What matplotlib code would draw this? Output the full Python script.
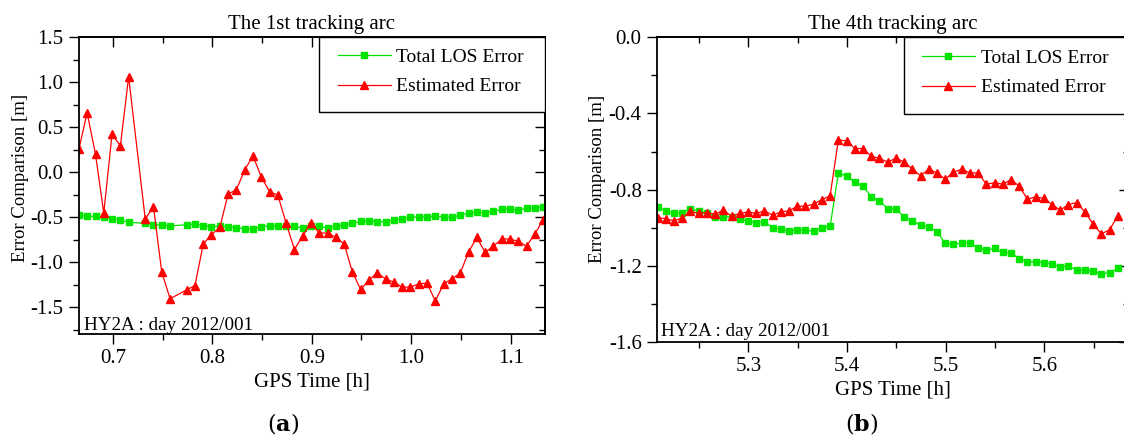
import matplotlib
matplotlib.use("Agg")
import matplotlib.pyplot as plt
from matplotlib.ticker import MultipleLocator, FormatStrFormatter, NullFormatter
from matplotlib.patches import Rectangle

plt.rcParams['font.family'] = ['Liberation Serif', 'DejaVu Serif']
plt.rcParams['axes.unicode_minus'] = False

# ---- data: (a) 1st tracking arc ----
t1 = [0.6659, 0.6742, 0.6826, 0.6909, 0.6992, 0.7076, 0.7159,
      0.7326, 0.7409, 0.7492, 0.7576,
      0.7742, 0.7826, 0.7909, 0.7992, 0.8076, 0.8159, 0.8242, 0.8326, 0.8409, 0.8492,
      0.8576, 0.8659, 0.8742, 0.8826, 0.8909, 0.8992, 0.9076, 0.9159, 0.9242, 0.9326,
      0.9409, 0.9492, 0.9576, 0.9659, 0.9742, 0.9826, 0.9909, 0.9992, 1.0076, 1.0159,
      1.0242, 1.0326, 1.0409, 1.0492, 1.0576, 1.0659, 1.0742, 1.0826, 1.0909, 1.0992,
      1.1076, 1.1159, 1.1242, 1.1326]
los1 = [-0.477, -0.492, -0.492, -0.496, -0.518, -0.533, -0.558,
        -0.569, -0.584, -0.588, -0.599,
        -0.584, -0.577, -0.595, -0.606, -0.603, -0.610, -0.618, -0.629, -0.629, -0.606,
        -0.595, -0.603, -0.603, -0.603, -0.621, -0.603, -0.603, -0.621, -0.603, -0.588,
        -0.569, -0.547, -0.540, -0.551, -0.551, -0.533, -0.518, -0.503, -0.496, -0.496,
        -0.492, -0.496, -0.503, -0.477, -0.459, -0.448, -0.451, -0.437, -0.414, -0.411,
        -0.422, -0.403, -0.396, -0.385]
est1 = [0.255, 0.661, 0.199, -0.455, 0.421, 0.292, 1.06,
        -0.521, -0.385, -1.113, -1.408,
        -1.309, -1.261, -0.799, -0.695, -0.614, -0.244, -0.196, 0.025, 0.181, -0.052,
        -0.218, -0.255, -0.566, -0.861, -0.706, -0.569, -0.677, -0.677, -0.725, -0.799,
        -1.113, -1.305, -1.198, -1.120, -1.187, -1.224, -1.279, -1.279, -1.242, -1.235,
        -1.434, -1.242, -1.187, -1.124, -0.891, -0.725, -0.891, -0.824, -0.743, -0.743,
        -0.769, -0.824, -0.688, -0.533]

# ---- data: (b) 4th tracking arc ----
t2 = [5.2078, 5.2161, 5.2245, 5.2328, 5.2411, 5.2495, 5.2578, 5.2661, 5.2745, 5.2828,
      5.2911, 5.2995, 5.3078, 5.3161, 5.3245, 5.3328, 5.3411, 5.3495, 5.3578, 5.3661,
      5.3745, 5.3828, 5.3911, 5.3995, 5.4078, 5.4161, 5.4245, 5.4328, 5.4411, 5.4495,
      5.4578, 5.4661, 5.4745, 5.4828, 5.4911, 5.4995, 5.5078, 5.5161, 5.5245, 5.5328,
      5.5411, 5.5495, 5.5578, 5.5661, 5.5745, 5.5828, 5.5911, 5.5995, 5.6078, 5.6161,
      5.6245, 5.6328, 5.6411, 5.6495, 5.6578, 5.6661, 5.6745]
los2 = [-0.890, -0.911, -0.925, -0.920, -0.899, -0.913, -0.922, -0.943, -0.943, -0.943,
        -0.952, -0.966, -0.973, -0.969, -0.999, -1.008, -1.017, -1.010, -1.013, -1.018,
        -0.999, -0.992, -0.715, -0.727, -0.762, -0.780, -0.838, -0.859, -0.899, -0.902,
        -0.943, -0.964, -0.987, -0.995, -1.022, -1.080, -1.088, -1.078, -1.078, -1.106,
        -1.118, -1.109, -1.130, -1.132, -1.162, -1.179, -1.179, -1.183, -1.192, -1.206,
        -1.200, -1.223, -1.223, -1.228, -1.241, -1.237, -1.214]
est2 = [-0.948, -0.952, -0.964, -0.948, -0.913, -0.925, -0.920, -0.929, -0.908, -0.939,
        -0.925, -0.917, -0.925, -0.911, -0.934, -0.917, -0.911, -0.887, -0.887, -0.876,
        -0.852, -0.832, -0.540, -0.543, -0.584, -0.584, -0.624, -0.636, -0.654, -0.636,
        -0.654, -0.692, -0.727, -0.692, -0.712, -0.745, -0.708, -0.693, -0.712, -0.712,
        -0.771, -0.764, -0.771, -0.748, -0.781, -0.850, -0.838, -0.846, -0.878, -0.908,
        -0.878, -0.868, -0.917, -0.981, -1.032, -1.011, -0.938]

titles = ["The 1st tracking arc", "The 4th tracking arc"]
tag = "HY2A : day 2012/001"
green = '#00e400'
red = '#ff0000'

fig = plt.figure(figsize=(11.24, 4.37), dpi=100)
ax1 = fig.add_axes([0.0701, 0.2357, 0.4148, 0.6790])
ax2 = fig.add_axes([0.5845, 0.2174, 0.4199, 0.6972])


def style(ax, xlim, ylim, xmaj, ymaj):
    ax.set_xlim(*xlim)
    ax.set_ylim(*ylim)
    ax.xaxis.set_major_locator(MultipleLocator(xmaj))
    ax.xaxis.set_minor_locator(MultipleLocator(xmaj / 2))
    ax.yaxis.set_major_locator(MultipleLocator(ymaj))
    ax.yaxis.set_minor_locator(MultipleLocator(ymaj / 2))
    ax.xaxis.set_major_formatter(FormatStrFormatter('%.1f'))
    ax.yaxis.set_major_formatter(FormatStrFormatter('%.1f'))
    for s in ax.spines.values():
        s.set_linewidth(1.3)
    ax.tick_params(which='both', direction='out', top=False, right=False,
                   width=1.0, labelsize=15, pad=4)
    ax.tick_params(which='major', length=7)
    ax.tick_params(which='minor', length=4)
    # inward ticks on top / right
    top = ax.secondary_xaxis('top')
    top.xaxis.set_major_locator(MultipleLocator(xmaj))
    top.xaxis.set_minor_locator(MultipleLocator(xmaj / 2))
    top.xaxis.set_major_formatter(NullFormatter())
    top.tick_params(which='both', direction='in', width=1.0)
    top.tick_params(which='major', length=7)
    top.tick_params(which='minor', length=4)
    top.spines['top'].set_linewidth(1.3)
    rgt = ax.secondary_yaxis('right')
    rgt.yaxis.set_major_locator(MultipleLocator(ymaj))
    rgt.yaxis.set_minor_locator(MultipleLocator(ymaj / 2))
    rgt.yaxis.set_major_formatter(NullFormatter())
    rgt.tick_params(which='both', direction='in', width=1.0)
    rgt.tick_params(which='major', length=7)
    rgt.tick_params(which='minor', length=4)
    rgt.spines['right'].set_linewidth(1.3)


def legend_box(ax, x0, y0, hx, hy):
    ax.add_patch(Rectangle((x0, y0), 1 - x0, 1 - y0, transform=ax.transAxes,
                           facecolor='white', edgecolor='black', lw=1.0, zorder=5))
    leg = ax.legend(loc='upper left', bbox_to_anchor=(hx, hy), frameon=False,
                    borderpad=0, borderaxespad=0, handlelength=2.7,
                    handletextpad=0.3, labelspacing=0.6, fontsize=14, numpoints=1)
    leg.set_zorder(6)


for ax, t, los, est in [(ax1, t1, los1, est1), (ax2, t2, los2, est2)]:
    ax.plot(t, los, color=green, lw=0.9, marker='s', ms=4.2, mec=green, mfc=green,
            label='Total LOS Error')
    ax.plot(t, est, color=red, lw=0.9, marker='^', ms=5.5, mec=red, mfc=red,
            label='Estimated Error')

style(ax1, (0.6658, 1.1345), (-1.8, 1.5), 0.1, 0.5)
style(ax2, (5.2072, 5.6858), (-1.6, 0.0), 0.1, 0.4)

for ax, ttl in zip((ax1, ax2), titles):
    ax.set_title(ttl, fontsize=15, pad=6)
    ax.set_xlabel('GPS Time [h]', fontsize=15)
    ax.set_ylabel('Error Comparison [m]', fontsize=13.5)

ax1.xaxis.set_label_coords(0.5, -0.13)
ax2.xaxis.set_label_coords(0.5, -0.125)
ax1.yaxis.set_label_coords(-0.106, 0.525)
ax2.yaxis.set_label_coords(-0.108, 0.536)

ax1.text(0.012, 0.012, tag, transform=ax1.transAxes, fontsize=13.8, va='baseline')
ax2.text(0.008, 0.02, tag, transform=ax2.transAxes, fontsize=13.8, va='baseline')

legend_box(ax1, 0.515, 0.747, 0.556, 0.962)
legend_box(ax2, 0.524, 0.747, 0.562, 0.960)

fig.text(0.252, 0.030, r'($\mathbf{a}$)', family='DejaVu Serif', fontsize=16,
         ha='center', va='center', math_fontfamily='dejavuserif')
fig.text(0.767, 0.032, r'($\mathbf{b}$)', family='DejaVu Serif', fontsize=16,
         ha='center', va='center', math_fontfamily='dejavuserif')

fig.savefig('out.png', dpi=100)
